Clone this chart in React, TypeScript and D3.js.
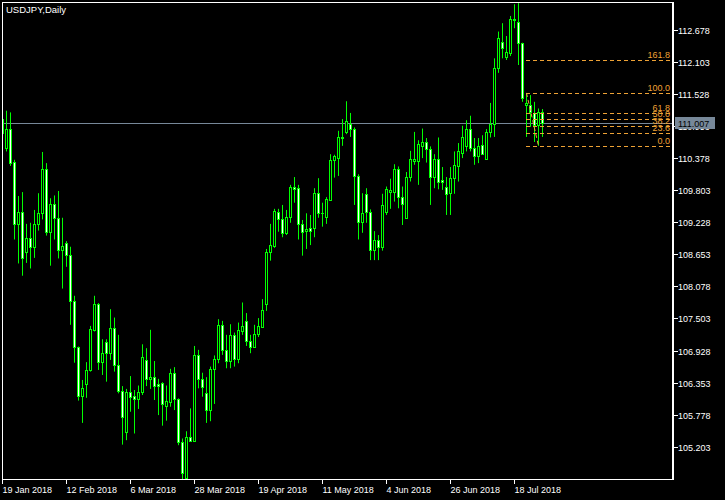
import React from 'react';
import * as d3 from 'd3';

const title = 'USDJPY,Daily';

const opens = [111.09,110.56,110.91,110.31,109.20,109.41,108.69,108.94,108.78,109.19,109.39,110.18,109.06,109.55,109.30,108.74,108.85,108.64,107.81,106.99,106.11,106.32,106.57,107.30,107.76,106.73,107.09,106.89,107.33,106.66,106.21,105.47,106.18,106.11,106.05,106.18,106.75,106.42,106.45,106.32,106.34,105.94,106.01,106.52,106.06,105.29,104.64,105.38,105.31,106.84,106.41,106.16,105.87,106.59,106.77,107.39,106.94,106.74,107.21,106.77,107.28,107.45,107.10,106.99,107.22,107.35,107.76,108.69,108.81,109.41,109.28,109.04,109.33,109.86,109.84,109.19,109.08,109.12,109.12,109.75,109.39,109.33,109.63,110.34,110.39,110.75,110.85,111.00,110.90,110.06,109.24,109.73,109.41,108.74,108.91,108.79,109.42,109.77,109.77,110.18,109.68,109.30,110.04,110.33,110.32,110.60,110.67,110.54,110.05,110.36,109.99,109.86,109.75,110.02,110.24,110.48,110.59,110.90,110.56,110.42,110.61,110.36,110.84,111.00,111.99,112.46,112.20,112.27,112.87,112.83,112.45,111.33,111.33,111.19,110.97,111.21];
const highs = [111.14,111.23,111.20,110.35,109.70,109.77,109.20,109.22,109.45,109.75,110.49,110.29,109.66,109.71,109.79,109.31,108.89,108.79,107.91,107.00,106.40,106.72,107.37,107.91,107.78,107.13,107.13,107.67,107.52,107.21,106.29,106.24,106.47,106.22,106.30,107.04,106.97,107.30,106.74,106.42,106.36,106.30,106.60,106.63,106.07,105.35,105.48,105.89,107.01,106.94,106.53,106.45,106.64,106.84,107.49,107.46,107.21,107.40,107.25,107.43,107.79,107.60,107.21,107.39,107.51,107.85,108.75,109.20,109.47,109.47,109.54,109.45,109.90,110.04,109.90,109.27,109.39,109.36,109.84,110.02,109.58,109.68,110.45,110.44,110.87,111.08,111.40,111.19,110.93,110.09,109.75,109.84,109.46,109.07,109.00,109.74,109.87,110.01,110.27,110.23,109.87,110.13,110.51,110.85,110.70,110.91,110.74,110.59,110.45,110.75,110.22,110.04,110.22,110.50,110.65,110.96,111.06,111.14,110.74,110.74,110.79,110.90,111.37,112.17,112.65,112.80,112.57,112.93,113.14,113.16,112.45,111.55,111.51,111.39,111.27,111.26];
const lows = [110.78,110.50,110.24,108.92,108.49,108.27,108.50,108.40,108.59,109.08,109.28,108.99,108.45,108.92,108.58,108.04,108.43,107.39,106.71,106.03,105.63,106.08,106.55,107.27,106.58,106.49,106.37,106.76,106.55,106.16,105.24,105.32,105.83,105.44,105.88,106.13,106.29,106.24,106.04,105.77,105.58,105.67,105.92,105.86,105.23,104.62,104.62,105.31,105.31,106.25,106.10,105.63,105.66,105.97,106.70,106.85,106.61,106.61,106.64,106.70,107.21,107.01,106.88,106.99,107.17,107.35,107.64,108.54,108.77,109.06,108.96,109.00,109.22,109.58,108.92,108.63,108.75,108.82,108.96,109.31,109.15,109.20,109.63,110.03,110.06,110.60,110.81,110.76,109.54,108.92,109.04,109.22,108.55,108.55,108.55,108.72,109.36,109.47,109.60,109.48,109.18,109.30,109.96,110.26,109.90,110.38,110.30,109.54,109.84,109.82,109.81,109.36,109.36,109.74,109.96,110.38,110.50,110.50,110.26,110.29,110.44,110.35,110.75,110.76,111.91,112.17,112.14,112.21,112.71,112.05,111.39,110.76,110.94,110.67,110.60,110.76];
const closes = [110.83,110.91,110.30,109.20,109.41,108.58,108.94,108.78,109.19,109.39,110.18,109.06,109.55,109.30,108.74,108.80,108.64,107.81,106.99,106.11,106.25,106.58,107.31,107.76,106.73,106.88,106.89,107.33,106.66,106.21,105.73,106.18,106.10,106.05,106.18,106.81,106.42,106.45,106.30,106.30,105.97,106.02,106.52,106.06,105.29,104.73,105.38,105.31,106.84,106.41,106.27,105.87,106.59,106.77,107.39,106.94,106.74,107.21,106.77,107.30,107.37,107.10,106.99,107.22,107.37,107.66,108.69,108.82,109.43,109.29,109.04,109.32,109.86,109.83,109.19,109.06,109.10,109.08,109.75,109.39,109.40,109.65,110.35,110.41,110.76,110.74,111.04,110.90,110.06,109.24,109.39,109.41,108.74,108.91,108.79,109.54,109.83,109.81,110.18,109.69,109.55,110.04,110.36,110.36,110.63,110.66,110.54,110.05,110.36,109.95,109.96,109.73,110.02,110.25,110.50,110.76,110.90,110.56,110.42,110.59,110.45,110.84,111.00,111.99,112.53,112.35,112.28,112.87,112.85,112.44,111.45,111.36,111.21,110.97,111.21,111.007];

const priceTicks = [105.203,105.778,106.353,106.928,107.503,108.078,108.653,109.228,109.803,110.378,110.953,111.528,112.103,112.678];
const dateLabels = ['19 Jan 2018','12 Feb 2018','6 Mar 2018','28 Mar 2018','19 Apr 2018','11 May 2018','4 Jun 2018','26 Jun 2018','18 Jul 2018'];
const dateBars = [0,16,32,48,64,80,96,112,128];

const currentPrice = 111.007;
const fibHigh = 111.548;
const fibLow = 110.597;
const fibStartBar = 131;
const fibEndBar = 134;
const fibLevels = [0, 23.6, 38.2, 50.0, 61.8, 100.0, 161.8];

const W = 725, H = 500;
const left = 2, right = 672, top = 2, bottom = 479;
const GREEN = '#00ff00';
const FIB = '#eea235';
const GRAYLINE = '#778899';
const FONT = '"Liberation Sans", Arial, sans-serif';

export default function App() {
  const x = d3.scaleLinear().domain([0, 135]).range([2, 542]);
  const y = d3.scaleLinear().domain([105.203, 112.678]).range([446.7, 30]);

  const candles = opens.map((o, i) => {
    const c = closes[i];
    const cx = Math.round(x(i));
    const yT = Math.round(y(Math.max(o, c)));
    const yB = Math.round(y(Math.min(o, c)));
    const bull = c > o;
    return (
      <g key={i}>
        <line x1={cx + 0.5} x2={cx + 0.5} y1={y(highs[i])} y2={y(lows[i])} stroke={GREEN} strokeWidth={1} />
        {yB - yT >= 1 ? (
          <rect x={cx - 0.5} y={yT + 0.5} width={2} height={yB - yT} fill={bull ? '#000' : '#fff'} stroke={GREEN} strokeWidth={1} />
        ) : (
          <line x1={cx - 1} x2={cx + 2} y1={yT + 0.5} y2={yT + 0.5} stroke={GREEN} strokeWidth={1} />
        )}
      </g>
    );
  });

  const fx0 = Math.round(x(fibStartBar));
  const fx1 = Math.round(x(fibEndBar));
  const range = fibHigh - fibLow;
  const cpY = Math.round(y(currentPrice)) + 0.5;

  return (
    <svg width={W} height={H} style={{ position: 'absolute', left: 0, top: 0, display: 'block', background: '#000' }}>
      <rect x={0} y={0} width={W} height={H} fill="#000" />
      <defs>
        <clipPath id="plot">
          <rect x={left + 1} y={top + 1} width={right - left - 1} height={bottom - top - 1} />
        </clipPath>
      </defs>
      <g clipPath="url(#plot)">
        <line x1={left} x2={right} y1={cpY} y2={cpY} stroke={GRAYLINE} strokeWidth={1} />
        {candles}
        {fibLevels.map((lv) => {
          const py = Math.round(y(fibLow + (range * lv) / 100)) + 0.5;
          return (
            <g key={lv}>
              <line x1={fx0} x2={right} y1={py} y2={py} stroke={FIB} strokeWidth={1} strokeDasharray="4,3" />
              <text x={right - 2} y={py - 3} fill={FIB} fontSize={9} fontFamily={FONT} textAnchor="end">{lv.toFixed(1)}</text>
            </g>
          );
        })}
        <line x1={fx0 + 0.5} y1={y(fibHigh)} x2={fx1 + 0.5} y2={y(fibLow)} stroke={FIB} strokeWidth={1} strokeDasharray="4,3" />
      </g>
      {/* frame */}
      <line x1={left + 0.5} x2={left + 0.5} y1={top} y2={bottom + 1} stroke="#fff" />
      <line x1={left} x2={right + 2} y1={top + 0.5} y2={top + 0.5} stroke="#fff" />
      <line x1={right + 1} x2={right + 1} y1={top} y2={bottom + 1} stroke="#fff" strokeWidth={2} />
      <line x1={left} x2={right + 2} y1={bottom + 0.5} y2={bottom + 0.5} stroke="#fff" />
      <text x={6} y={13} fill="#fff" fontSize={9.5} fontFamily={FONT}>{title}</text>
      {/* price axis */}
      {priceTicks.map((v) => {
        const py = Math.round(y(v)) + 0.5;
        return (
          <g key={v}>
            <line x1={right + 2} x2={right + 6} y1={py} y2={py} stroke="#fff" />
            <text x={678} y={py + 3.5} fill="#fff" fontSize={9} fontFamily={FONT}>{v.toFixed(3)}</text>
          </g>
        );
      })}
      <rect x={675} y={cpY - 6.5} width={40} height={12} fill={GRAYLINE} />
      <text x={678} y={cpY + 3.5} fill="#000" fontSize={9} fontFamily={FONT}>{currentPrice.toFixed(3)}</text>
      {/* time axis */}
      {dateLabels.map((d, k) => {
        const tx = Math.round(x(dateBars[k])) + 0.5;
        return (
          <g key={d}>
            <line x1={tx} x2={tx} y1={bottom} y2={bottom + 5} stroke="#fff" />
            <text x={tx} y={493} fill="#fff" fontSize={9} fontFamily={FONT}>{d}</text>
          </g>
        );
      })}
    </svg>
  );
}
